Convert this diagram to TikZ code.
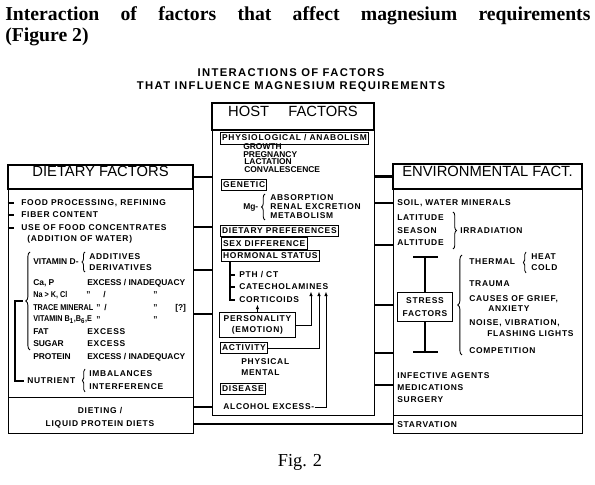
\documentclass[tikz,border=0pt]{standalone}
\usepackage{fontspec}
\setmainfont{Liberation Serif}
\setsansfont{Liberation Sans}
\newfontfamily\letterfont[LetterSpace=9]{Liberation Sans}
\newfontfamily\narrowfont[FakeStretch=0.86]{Liberation Sans}
\newfontfamily\subtitlefont[LetterSpace=12]{Liberation Sans}
\usetikzlibrary{fit, arrows.meta, decorations.pathreplacing}

\tikzset{
    lbl/.style={anchor=west, inner sep=0pt, font=\letterfont\bfseries\fontsize{6}{7}\selectfont},
    plainlbl/.style={lbl, font=\sffamily\bfseries\fontsize{6}{7}\selectfont},
    narrowlbl/.style={lbl, font=\narrowfont\bfseries\fontsize{6}{7}\selectfont},
    tag/.style={lbl, draw, line width=0.6pt, inner xsep=1.2pt, inner ysep=2pt},
    frame/.style={draw, line width=0.7pt, inner sep=0pt},
    headframe/.style={frame, line width=1.5pt, font=\sffamily\fontsize{10.5}{12}\selectfont},
    link/.style={line width=0.8pt},
    heavy/.style={line width=1.7pt},
    brc/.style={decorate, decoration={brace, amplitude=#1}, line width=0.6pt},
    brc/.default=2.2pt,
    arr/.style={-{Latex[length=3.2pt,width=2.6pt]}, line width=0.6pt}
}

\begin{document}
\begin{tikzpicture}[x=0.025cm, y=-0.025cm]
    \useasboundingbox[fill=white] (0,0) rectangle (595,485);

    % titles
    \node[anchor=base west, inner sep=0, font=\bfseries\fontsize{14}{16}\selectfont] (title) at (5,21)
        {\makebox[14.625cm][s]{Interaction of factors that affect magnesium requirements}};
    \node[anchor=base west, inner sep=0, font=\bfseries\fontsize{14}{16}\selectfont] (figref) at (5,42) {(Figure 2)};
    \node[inner sep=0, align=center, font=\subtitlefont\bfseries\fontsize{8}{9.2}\selectfont] (subtitle) at (291,80)
        {INTERACTIONS OF FACTORS\\THAT INFLUENCE MAGNESIUM REQUIREMENTS};

    % frames
    \node[frame, fit={(8,189) (193,397)}] (dietbody) {};
    \node[frame, fit={(8,397) (193,433)}] (dieting) {};
    \node[headframe, fit={(8,165) (193,189)}] (diethead) {DIETARY FACTORS};

    \node[frame, fit={(212,130) (374,415)}] (hostbody) {};
    \node[headframe, fit={(212,103) (374,130)}] (hosthead) {HOST\hspace{1.3em}FACTORS};

    \node[frame, fit={(393,189) (582,415)}] (envbody) {};
    \node[frame, fit={(393,415) (582,433)}] (starv) {};
    \node[headframe, fit={(393,164) (582,189)}] (envhead) {ENVIRONMENTAL FACT.};

    % dietary factors
    \node[lbl] (food) at (21,203) {FOOD PROCESSING, REFINING};
    \node[lbl] (fiber) at (21,215) {FIBER CONTENT};
    \node[lbl] (usefood) at (21,228) {USE OF FOOD CONCENTRATES};
    \node[lbl] (water) at (27,239) {(ADDITION OF WATER)};
    \foreach \n in {food, fiber, usefood}
        \draw[link] (dietbody.west |- \n.west) -- ++(6,0);

    \node[plainlbl] (vitd) at (33,262) {VITAMIN D-};
    \node[lbl] (additives) at (89,257) {ADDITIVES};
    \node[lbl] (derivatives) at (89,268) {DERIVATIVES};
    \draw[brc] (85,272) -- (85,252);

    \node[plainlbl] (cap) at (33,283) {Ca, P};
    \node[plainlbl] (capex) at (87,283) {EXCESS / INADEQUACY};
    \node[narrowlbl] (nak) at (33,295) {Na > K, Cl};
    \node[narrowlbl] (trace) at (33,308) {TRACE MINERAL};
    \node[narrowlbl] (vitb) at (33,320) {VITAMIN B\textsubscript{1},B\textsubscript{6},E};
    % ditto marks
    \node[plainlbl] (nakd1) at (86,295) {"};
    \node[plainlbl] (nakd2) at (103,295) {/};
    \node[plainlbl] (nakd3) at (153,295) {"};
    \node[plainlbl] (traced1) at (96,308) {"};
    \node[plainlbl] (traced2) at (104,308) {/};
    \node[plainlbl] (traced3) at (153,308) {"};
    \node[plainlbl] (traceq) at (175,308) {[?]};
    \node[plainlbl] (vitbd1) at (96,320) {"};
    \node[plainlbl] (vitbd3) at (153,320) {"};

    \node[plainlbl] (fat) at (33,332) {FAT};
    \node[lbl] (fatex) at (87,332) {EXCESS};
    \node[plainlbl] (sugar) at (33,344) {SUGAR};
    \node[lbl] (sugarex) at (87,344) {EXCESS};
    \node[plainlbl] (protein) at (33,357) {PROTEIN};
    \node[plainlbl] (proteinex) at (87,357) {EXCESS / INADEQUACY};
    \draw[brc=3pt] (30,350) -- (30,252) coordinate[pos=0.5, xshift=-5pt] (bigtip);

    \node[lbl] (nutrient) at (27,381) {NUTRIENT};
    \node[lbl] (imbal) at (89,374) {IMBALANCES};
    \node[lbl] (interf) at (89,387) {INTERFERENCE};
    \draw[brc=1.8pt] (85,392) -- (85,369);
    \draw[link] (bigtip) -- (15,301) |- ([xshift=-2pt]nutrient.west);

    \node[lbl, anchor=center, align=center, font=\letterfont\bfseries\fontsize{6}{9.2}\selectfont] (dietingtext)
        at (100,418) {DIETING /\\LIQUID PROTEIN DIETS};

    % host factors
    \node[tag] (physio) at (220,138) {PHYSIOLOGICAL / ANABOLISM};
    \node[plainlbl] (growth) at (243,147) {GROWTH};
    \node[plainlbl] (pregnancy) at (243,155) {PREGNANCY};
    \node[plainlbl] (lactation) at (244,162) {LACTATION};
    \node[plainlbl] (conval) at (244,170) {CONVALESCENCE};
    \node[tag] (genetic) at (221,185) {GENETIC};
    \node[plainlbl] (mg) at (243,207) {Mg-};
    \draw[brc=2.5pt] (265,220) -- (265,194);
    \node[lbl] (absorp) at (270,198) {ABSORPTION};
    \node[lbl] (renal) at (270,207) {RENAL EXCRETION};
    \node[lbl] (metab) at (270,216) {METABOLISM};
    \node[tag] (dietpref) at (220,231) {DIETARY PREFERENCES};
    \node[tag] (sexdiff) at (221,243.5) {SEX DIFFERENCE};
    \node[tag] (horm) at (221,256) {HORMONAL STATUS};
    \node[lbl] (pth) at (239,275) {PTH / CT};
    \node[lbl] (catech) at (239,287) {CATECHOLAMINES};
    \node[lbl] (cortic) at (239,300) {CORTICOIDS};
    \draw[link] (horm.south west) ++(9,0) coordinate (hb) -- (hb |- cortic.west) -- ++(5,0);
    \draw[link] (hb |- pth.west) -- ++(5,0);
    \draw[link] (hb |- catech.west) -- ++(5,0);

    \node[tag, align=center, inner xsep=3pt, font=\letterfont\bfseries\fontsize{6}{8}\selectfont] (pers) at (219,325)
        {PERSONALITY\\(EMOTION)};
    \node[tag] (activity) at (220,348) {ACTIVITY};
    \node[lbl] (physical) at (241,362) {PHYSICAL};
    \node[lbl] (mental) at (241,373) {MENTAL};
    \node[tag] (disease) at (220,389) {DISEASE};
    \node[lbl] (alcohol) at (223,407) {ALCOHOL EXCESS-};
    \draw[arr] (pers.north) -- ([yshift=-1pt]pers.north |- cortic.south);
    \draw[arr] (pers.east) -| ([yshift=-1pt]catech.south -| 311,0);
    \draw[arr] (activity.east) -| ([yshift=-1pt]catech.south -| 319,0);
    \draw[arr] (alcohol.east) -| ([yshift=-1pt]catech.south -| 326,0);

    % environmental factors
    \node[lbl] (soil) at (397,203) {SOIL, WATER MINERALS};
    \node[lbl] (latitude) at (397,218) {LATITUDE};
    \node[lbl] (season) at (397,231) {SEASON};
    \node[lbl] (altitude) at (397,243) {ALTITUDE};
    \draw[brc=2.5pt] (453,212) -- (453,249);
    \node[lbl] (irrad) at (460,231) {IRRADIATION};

    \node[lbl, draw, line width=0.6pt, anchor=center, align=center, inner sep=3.5pt, minimum width=38pt,
          font=\letterfont\bfseries\fontsize{6}{9}\selectfont] (stress) at (425,307) {STRESS\\FACTORS};
    \draw[link] (stress.north) -- (stress.north |- 0,257) coordinate (stop);
    \draw[link] (stop) ++(-12,0) -- ++(25,0);
    \draw[link] (stress.south) -- (stress.south |- 0,352) coordinate (sbot);
    \draw[link] (sbot) ++(-12,0) -- ++(25,0);
    \draw[brc=3pt] (462,355) -- (462,255);

    \node[lbl] (thermal) at (469,262) {THERMAL};
    \draw[brc=1.8pt] (526,273) -- (526,252);
    \node[lbl] (heat) at (531,257) {HEAT};
    \node[lbl] (cold) at (531,268) {COLD};
    \node[lbl] (trauma) at (469,284) {TRAUMA};
    \node[lbl] (grief) at (469,299) {CAUSES OF GRIEF,};
    \node[lbl] (anxiety) at (488,309) {ANXIETY};
    \node[lbl] (noise) at (469,323) {NOISE, VIBRATION,};
    \node[lbl] (flash) at (487,334) {FLASHING LIGHTS};
    \node[lbl] (compet) at (469,351) {COMPETITION};
    \node[lbl] (infect) at (397,376) {INFECTIVE AGENTS};
    \node[lbl] (medic) at (397,388) {MEDICATIONS};
    \node[lbl] (surgery) at (397,400) {SURGERY};
    \node[lbl] (starvtext) at (397,425) {STARVATION};

    % connectors between the groups
    \draw[heavy] (diethead.east) -- (diethead.east -| hostbody.west);
    \foreach \yy/\w in {227/link, 270/heavy, 314/link}
        \draw[\w] (dietbody.east |- 0,\yy) -- (hostbody.west |- 0,\yy);
    \draw[link] (dieting.east |- alcohol.west) -- (hostbody.west |- alcohol.west);
    \draw[link] (dieting.east |- starv.west) -- (starv.west);

    \draw[heavy] (envhead.west) -- (envhead.west -| hostbody.east);
    \draw[heavy] (hostbody.east |- soil.west) -- (envbody.west |- soil.west);
    \foreach \yy/\w in {245/link, 305/link, 353/heavy, 385/link}
        \draw[\w] (hostbody.east |- 0,\yy) -- (envbody.west |- 0,\yy);

    \node[font=\fontsize{13}{15}\selectfont, inner sep=0] (figlabel) at (300,462) {Fig. 2};
\end{tikzpicture}
\end{document}
